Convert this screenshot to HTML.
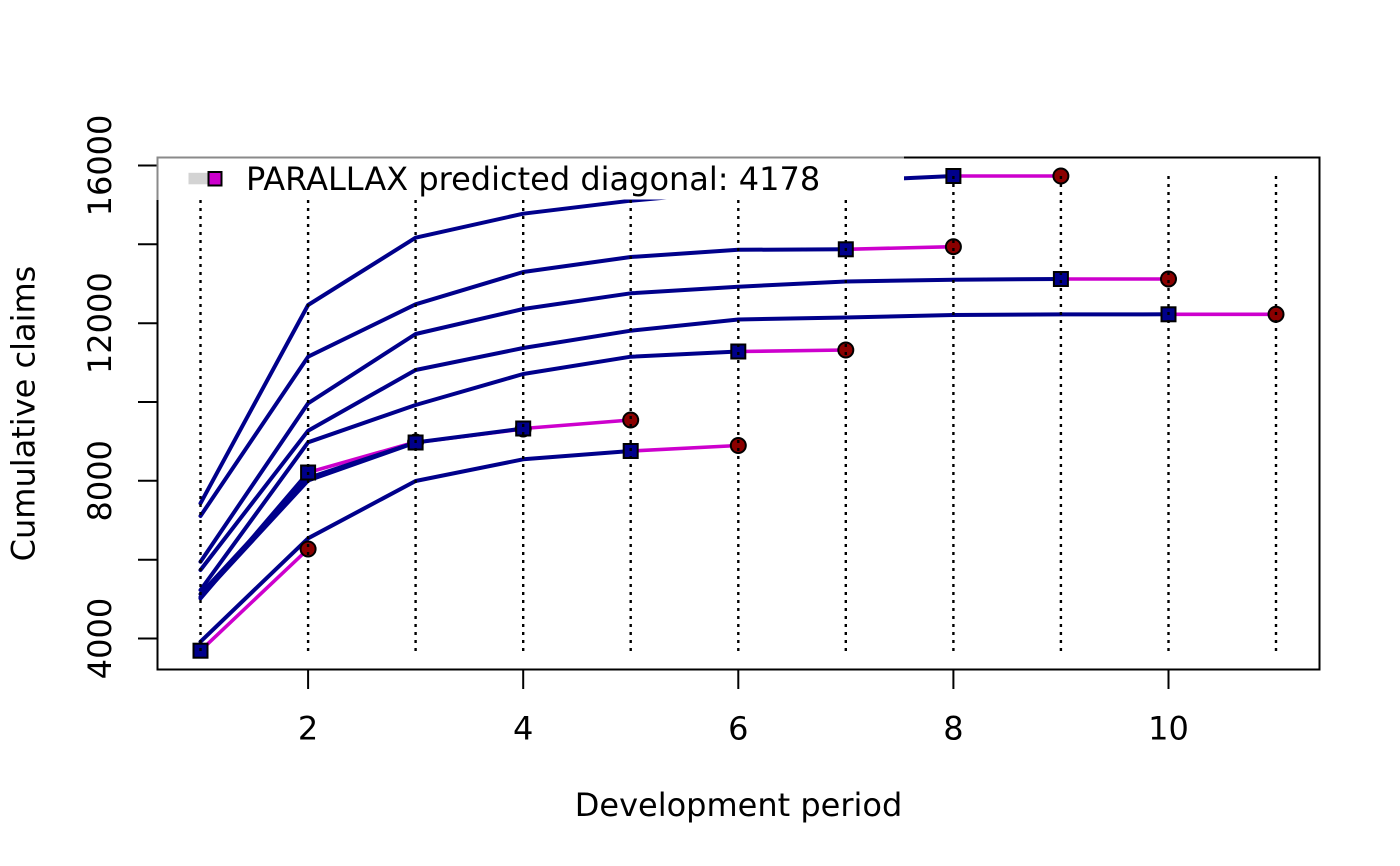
<!DOCTYPE html>
<html>
<head>
<meta charset="utf-8">
<style>
  html, body { margin: 0; padding: 0; background: #ffffff; }
  svg { display: block; }
  text { font-family: "DejaVu Sans", "Liberation Sans", sans-serif; font-size: 32px; fill: #000; }
</style>
</head>
<body>
<svg width="1400" height="866" viewBox="0 0 1400 866" xmlns="http://www.w3.org/2000/svg">
  <rect x="0" y="0" width="1400" height="866" fill="#ffffff"/>

  <!-- predicted (magenta) segments -->
  <g stroke="#CD00CD" stroke-width="3.6" fill="none" stroke-linecap="round">
    <line x1="953.4" y1="176" x2="1060.9" y2="176"/>
    <line x1="845.8" y1="249.3" x2="953.4" y2="246.7"/>
    <line x1="1060.9" y1="279" x2="1168.5" y2="279"/>
    <line x1="1168.5" y1="314.3" x2="1276" y2="314.3"/>
    <line x1="738.3" y1="351.5" x2="845.8" y2="350"/>
    <line x1="523.2" y1="428.5" x2="630.7" y2="420"/>
    <line x1="415.6" y1="442.5" x2="523.2" y2="429"/>
    <line x1="630.7" y1="451" x2="738.3" y2="445.5"/>
    <line x1="308.1" y1="472.5" x2="415.6" y2="442"/>
    <line x1="200.5" y1="650.7" x2="308.1" y2="549"/>
  </g>

  <!-- observed (dark blue) lines -->
  <g stroke="#00008B" stroke-width="4" fill="none" stroke-linejoin="round" stroke-linecap="round">
    <polyline points="200.5,503.3 308.1,305 415.6,237.7 523.2,213.7 630.7,200.7 738.3,191 845.8,181 953.4,176"/>
    <polyline points="200.5,516 308.1,356.7 415.6,304.3 523.2,272 630.7,257 738.3,249.8 845.8,249.3"/>
    <polyline points="200.5,561.7 308.1,403.3 415.6,334 523.2,309 630.7,293.3 738.3,286.7 845.8,281.5 953.4,279.7 1060.9,279"/>
    <polyline points="200.5,570 308.1,430.7 415.6,370 523.2,348 630.7,330.7 738.3,319.5 845.8,317.5 953.4,315 1060.9,314.4 1168.5,314.3"/>
    <polyline points="200.5,590 308.1,442.3 415.6,405 523.2,374 630.7,356.7 738.3,351.5"/>
    <polyline points="200.5,594 308.1,478 415.6,442.5 523.2,428.5"/>
    <polyline points="200.5,597 308.1,480.5 415.6,442.5"/>
    <polyline points="200.5,641.7 308.1,538.3 415.6,481 523.2,459.3 630.7,451"/>
    <polyline points="200.5,598.5 308.1,472.5"/>
  </g>

  <!-- predicted points (circles) -->
  <g fill="#8B0000" stroke="#000" stroke-width="2">
    <circle cx="1060.9" cy="176" r="7.5"/>
    <circle cx="953.4" cy="246.7" r="7.5"/>
    <circle cx="1168.5" cy="279" r="7.5"/>
    <circle cx="1276" cy="314.3" r="7.5"/>
    <circle cx="845.8" cy="350" r="7.5"/>
    <circle cx="630.7" cy="420" r="7.5"/>
    <circle cx="523.2" cy="429" r="7.5"/>
    <circle cx="738.3" cy="445.5" r="7.5"/>
    <circle cx="415.6" cy="442" r="7.5"/>
    <circle cx="308.1" cy="549" r="7.5"/>
  </g>

  <!-- latest diagonal (squares) -->
  <g fill="#00008B" stroke="#000" stroke-width="2">
    <rect x="946.4" y="169" width="14" height="14"/>
    <rect x="838.8" y="242.3" width="14" height="14"/>
    <rect x="1053.9" y="272" width="14" height="14"/>
    <rect x="1161.5" y="307.3" width="14" height="14"/>
    <rect x="731.3" y="344.5" width="14" height="14"/>
    <rect x="516.2" y="421.5" width="14" height="14"/>
    <rect x="408.6" y="435.5" width="14" height="14"/>
    <rect x="623.7" y="444" width="14" height="14"/>
    <rect x="301.1" y="465.5" width="14" height="14"/>
    <rect x="193.5" y="643.7" width="14" height="14"/>
  </g>

  <!-- dotted verticals -->
  <g stroke="#000" stroke-width="2.4" stroke-dasharray="3 5" fill="none">
    <line x1="200.5" y1="176" x2="200.5" y2="651.5"/>
    <line x1="308.1" y1="176" x2="308.1" y2="651.5"/>
    <line x1="415.6" y1="176" x2="415.6" y2="651.5"/>
    <line x1="523.2" y1="176" x2="523.2" y2="651.5"/>
    <line x1="630.7" y1="176" x2="630.7" y2="651.5"/>
    <line x1="738.3" y1="176" x2="738.3" y2="651.5"/>
    <line x1="845.8" y1="176" x2="845.8" y2="651.5"/>
    <line x1="953.4" y1="176" x2="953.4" y2="651.5"/>
    <line x1="1060.9" y1="176" x2="1060.9" y2="651.5"/>
    <line x1="1168.5" y1="176" x2="1168.5" y2="651.5"/>
    <line x1="1276" y1="176" x2="1276" y2="651.5"/>
  </g>

  <!-- plot box -->
  <rect x="157.5" y="157.5" width="1162" height="512" fill="none" stroke="#000" stroke-width="2"/>

  <!-- x axis ticks -->
  <g stroke="#000" stroke-width="2">
    <line x1="308.1" y1="669.5" x2="308.1" y2="689"/>
    <line x1="523.2" y1="669.5" x2="523.2" y2="689"/>
    <line x1="738.3" y1="669.5" x2="738.3" y2="689"/>
    <line x1="953.4" y1="669.5" x2="953.4" y2="689"/>
    <line x1="1168.5" y1="669.5" x2="1168.5" y2="689"/>
  </g>
  <g text-anchor="middle">
    <text x="308.1" y="739.4">2</text>
    <text x="523.2" y="739.4">4</text>
    <text x="738.3" y="739.4">6</text>
    <text x="953.4" y="739.4">8</text>
    <text x="1168.5" y="739.4">10</text>
  </g>

  <!-- y axis ticks -->
  <g stroke="#000" stroke-width="2">
    <line x1="138" y1="638.5" x2="157.5" y2="638.5"/>
    <line x1="138" y1="559.7" x2="157.5" y2="559.7"/>
    <line x1="138" y1="480.8" x2="157.5" y2="480.8"/>
    <line x1="138" y1="402" x2="157.5" y2="402"/>
    <line x1="138" y1="323.2" x2="157.5" y2="323.2"/>
    <line x1="138" y1="244.3" x2="157.5" y2="244.3"/>
    <line x1="138" y1="165.5" x2="157.5" y2="165.5"/>
  </g>
  <g text-anchor="middle">
    <text transform="translate(111,638.5) rotate(-90)">4000</text>
    <text transform="translate(111,480.8) rotate(-90)">8000</text>
    <text transform="translate(111,323.2) rotate(-90)">12000</text>
    <text transform="translate(111,165.5) rotate(-90)">16000</text>
  </g>

  <!-- axis titles -->
  <text x="738.5" y="816" text-anchor="middle">Development period</text>
  <text transform="translate(34.5,413.5) rotate(-90)" text-anchor="middle">Cumulative claims</text>

  <!-- legend -->
  <rect x="157.5" y="157.5" width="746.5" height="42" fill="#ffffff" stroke="none"/>
  <line x1="156.5" y1="157.5" x2="904" y2="157.5" stroke="#8a8a8a" stroke-width="2"/>
  <line x1="157.5" y1="156.5" x2="157.5" y2="200" stroke="#8a8a8a" stroke-width="2"/>
  <line x1="904" y1="157.5" x2="1319.5" y2="157.5" stroke="#000" stroke-width="2"/>
  <rect x="188.5" y="172.8" width="20" height="11.5" fill="#D3D3D3"/>
  <rect x="208.5" y="172" width="13" height="13.5" fill="#CD00CD" stroke="#000" stroke-width="2"/>
  <text x="246" y="190">PARALLAX predicted diagonal: 4178</text>
</svg>
</body>
</html>
